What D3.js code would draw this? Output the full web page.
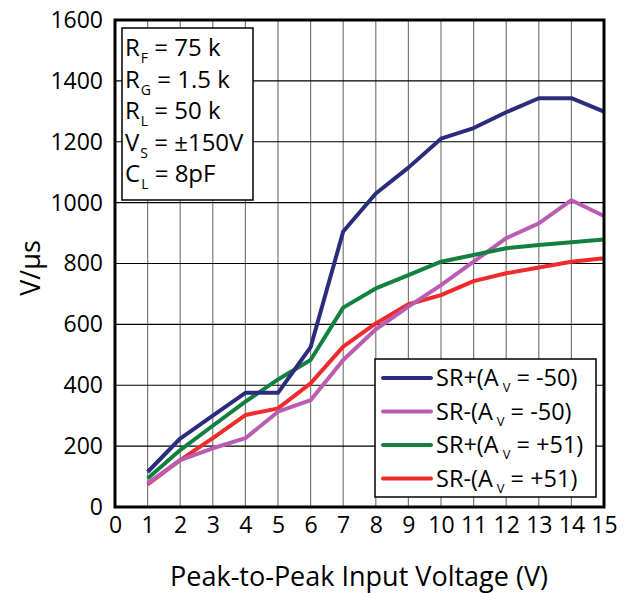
<!DOCTYPE html>
<html><head><meta charset="utf-8">
<script src="https://cdn.jsdelivr.net/npm/d3@7"></script>
<style>body{margin:0;background:#fff;} svg{display:block;font-family:"Open Sans",sans-serif;}</style>
</head><body>
<script>
const xValues = [1,2,3,4,5,6,7,8,9,10,11,12,13,14,15];
const srPlusNeg50  = [115,225,300,375,375,525,905,1030,1115,1210,1245,1297,1343,1343,1299];
const srMinusNeg50 = [78,154,193,226,313,351,483,584,658,729,806,883,932,1008,956];
const srPlusPos51  = [94,187,267,346,419,483,655,718,762,806,828,850,861,870,879];
const srMinusPos51 = [74,154,226,302,324,406,527,603,666,696,742,768,787,806,817];
const seriesNames = ["SR+(A", "SR-(A", "SR+(A", "SR-(A"];
const seriesGains = [" = -50)", " = -50)", " = +51)", " = +51)"];
const seriesColors = ["#2b2d7c", "#bb5cb3", "#12803f", "#ee2a2a"];
const xTicks = d3.range(0,16);
const yTicks = [0,200,400,600,800,1000,1200,1400,1600];
const notes = [["R","F"," = 75 k"],["R","G"," = 1.5 k"],["R","L"," = 50 k"],["V","S"," = \u00b1150V"],["C","L"," = 8pF"]];

const W=625,H=593;
const m={l:115,t:20,r:604,b:507};
const svg=d3.select("body").append("svg").attr("width",W).attr("height",H);
const x=d3.scaleLinear().domain([0,15]).range([m.l,m.r]);
const y=d3.scaleLinear().domain([0,1600]).range([m.b,m.t]);

// grid
svg.append("g").selectAll("line").data(xTicks.slice(1,-1)).join("line")
  .attr("x1",d=>x(d)).attr("x2",d=>x(d)).attr("y1",m.t).attr("y2",m.b)
  .attr("stroke","#7a7a7a").attr("stroke-width",1.2);
svg.append("g").selectAll("line").data(yTicks.slice(1,-1)).join("line")
  .attr("x1",m.l).attr("x2",m.r).attr("y1",d=>y(d)).attr("y2",d=>y(d))
  .attr("stroke","#000").attr("stroke-width",1.2);

// axes labels
const xAxis=d3.axisBottom(x).tickValues(xTicks).tickSize(0).tickPadding(10);
const gx=svg.append("g").attr("transform",`translate(0,${m.b})`).call(xAxis);
gx.select(".domain").remove();
gx.selectAll("text").attr("font-size",23).attr("font-family","Open Sans").attr("fill","#000");
const yAxis=d3.axisLeft(y).tickValues(yTicks).tickFormat(d3.format("d")).tickSize(0).tickPadding(12);
const gy=svg.append("g").attr("transform",`translate(${m.l},0)`).call(yAxis);
gy.select(".domain").remove();
gy.selectAll("text").attr("font-size",23).attr("font-family","Open Sans").attr("fill","#000");

// lines
const allSeries=[srPlusNeg50,srMinusNeg50,srPlusPos51,srMinusPos51];
const line=d3.line().x((d,i)=>x(xValues[i])).y(d=>y(d));
const drawOrder=[3,1,2,0];
drawOrder.forEach(k=>{
  svg.append("path").datum(allSeries[k]).attr("d",line).attr("fill","none")
    .attr("stroke",seriesColors[k]).attr("stroke-width",4).attr("stroke-linejoin","round");
});

// border
svg.append("rect").attr("x",m.l).attr("y",m.t).attr("width",m.r-m.l).attr("height",m.b-m.t)
  .attr("fill","none").attr("stroke","#000").attr("stroke-width",3);

// notes box
svg.append("rect").attr("x",122).attr("y",28).attr("width",131).attr("height",172)
  .attr("fill","#fff").attr("stroke","#000").attr("stroke-width",1.5);
notes.forEach((n,i)=>{
  const t=svg.append("text").attr("x",125).attr("y",56+i*31.5).attr("font-size",24).attr("fill","#000");
  t.append("tspan").text(n[0]);
  t.append("tspan").attr("font-size",14).attr("dx",1).attr("dy",7).text(n[1]);
  t.append("tspan").attr("dy",-7).text(n[2]);
});

// legend
svg.append("rect").attr("x",375).attr("y",359).attr("width",221).attr("height",138)
  .attr("fill","#fff").attr("stroke","#000").attr("stroke-width",1.5);
seriesNames.forEach((s,i)=>{
  const yy=378+i*33.5;
  svg.append("line").attr("x1",383).attr("x2",431).attr("y1",yy).attr("y2",yy)
    .attr("stroke",seriesColors[i]).attr("stroke-width",4).attr("stroke-linecap","round");
  const t=svg.append("text").attr("x",436).attr("y",yy+8).attr("font-size",23.5).attr("fill","#000");
  t.append("tspan").text(s);
  t.append("tspan").attr("font-size",13).attr("dx",4).attr("dy",6).text("V");
  t.append("tspan").attr("dy",-6).text(seriesGains[i]);
});

// titles
svg.append("text").attr("x",359).attr("y",586).attr("text-anchor","middle").attr("font-size",27).attr("fill","#000")
  .text("Peak-to-Peak Input Voltage (V)");
svg.append("text").attr("transform","translate(40,268) rotate(-90)").attr("text-anchor","middle").attr("font-size",27).attr("fill","#000")
  .text("V/\u00b5s");
</script>
</body></html>
